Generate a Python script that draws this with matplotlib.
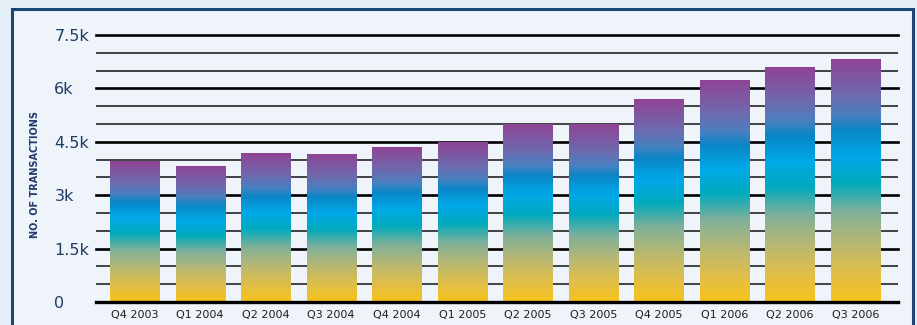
import numpy as np
import matplotlib
matplotlib.use('Agg')
import matplotlib.pyplot as plt
from matplotlib.colors import LinearSegmentedColormap
from matplotlib.patches import Rectangle

# quarters and transaction counts
quarters = ['Q4 2003', 'Q1 2004', 'Q2 2004', 'Q3 2004', 'Q4 2004', 'Q1 2005',
            'Q2 2005', 'Q3 2005', 'Q4 2005', 'Q1 2006', 'Q2 2006', 'Q3 2006']
transactions = [3960, 3820, 4160, 4130, 4330, 4470, 5000, 5000, 5700, 6210, 6600, 6800]

ytick_vals = [0, 1500, 3000, 4500, 6000, 7500]
ytick_labels = ['0', '1.5k', '3k', '4.5k', '6k', '7.5k']
minor_vals = [500, 1000, 2000, 2500, 3500, 4000, 5000, 5500, 6500, 7000]

#bar gradient, bottom (yellow) to top (purple)
grad = LinearSegmentedColormap.from_list('bars', [
    (0.0, '#f8c31a'), (0.12, '#dfbe4a'), (0.24, '#b8b872'), (0.37, '#80b09a'),
    (0.49, '#00aabd'), (0.60, '#00a9e8'), (0.71, '#0a86c6'), (0.77, '#4a80c0'),
    (0.85, '#6e6aae'), (1.0, '#8f4496')])

fig = plt.figure(figsize=(9.17, 3.25), dpi=100)
fig.patch.set_facecolor('#e5eff8')

# inner panel with dark blue frame
panel = Rectangle((11.5/917, -0.1), (913-11.5)/917, 1.1 - 9.5/325,
                  transform=fig.transFigure, facecolor='#eef4fa',
                  edgecolor='#1c4677', lw=2.2, zorder=-1)
fig.patches.append(panel)

ax = fig.add_axes([96/917, 23/325, (898-96)/917, (302-35)/325])
ax.set_facecolor('none')

for v in minor_vals:
    ax.axhline(v, color='#1a1a1a', lw=1.15, zorder=1)
for v in ytick_vals[1:]:
    ax.axhline(v, color='black', lw=1.9, zorder=1, clip_on=False)
ax.axhline(0, color='black', lw=2.4, zorder=3, clip_on=False)

g = np.linspace(0, 1, 256).reshape(-1, 1)
w = 0.75
for i, h in enumerate(transactions):
    ax.imshow(g, cmap=grad, origin='lower', aspect='auto',
              extent=(i - w/2, i + w/2, 0, h), zorder=2, interpolation='bilinear')
ax.set_xlim(-0.59, 11.65)
ax.set_ylim(0, 7500)

for s in ax.spines.values():
    s.set_visible(False)

ax.set_xticks(range(len(quarters)))
ax.set_xticklabels(quarters, fontsize=8, color='#1e1e1e')
ax.tick_params(axis='x', length=0, pad=6)

ax.set_yticks(ytick_vals)
ax.set_yticklabels(ytick_labels, fontsize=11.5, color='#1f3b63', ha='left')
ax.tick_params(axis='y', length=0, pad=30)

fig.text(35/917, 150/325, 'NO. OF TRANSACTIONS', rotation=90, ha='center', va='center',
         fontsize=7, fontweight='bold', color='#1f3b68')

fig.savefig('out.png', dpi=100, facecolor=fig.get_facecolor())
